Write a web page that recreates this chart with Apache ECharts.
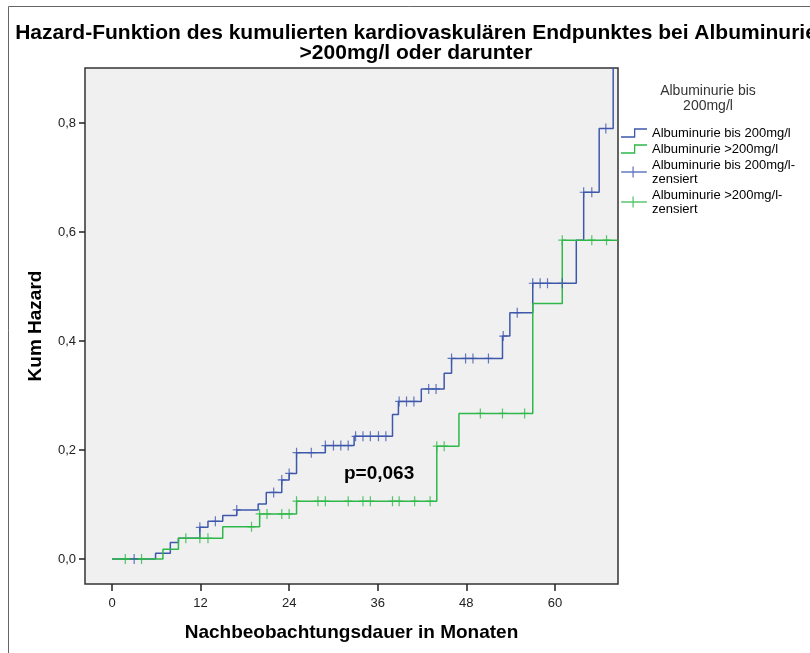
<!DOCTYPE html>
<html>
<head>
<meta charset="utf-8">
<script src="https://cdn.jsdelivr.net/npm/echarts@6/dist/echarts.min.js"></script>
<style>
html,body{margin:0;padding:0;background:#fff;}
#chart{width:810px;height:653px;}
</style>
</head>
<body>
<div id="chart"></div>
<script>
// ---- data ----
var xTicks = [0, 12, 24, 36, 48, 60];
var yTicks = [0, 0.2, 0.4, 0.6, 0.8];

var seriesNames = [
  'Albuminurie bis 200mg/l',
  'Albuminurie >200mg/l',
  'Albuminurie bis 200mg/l-zensiert',
  'Albuminurie >200mg/l-zensiert'
];

// step function: [month, cumulative hazard]
var lowSteps = [
  [0, 0], [5.9, 0.0105], [7.9, 0.030], [9.0, 0.038], [11.9, 0.058], [13.0, 0.069],
  [15.0, 0.0795], [16.9, 0.090], [19.8, 0.101], [20.9, 0.122], [23.0, 0.145],
  [24.0, 0.157], [25.0, 0.195], [28.9, 0.208], [32.8, 0.225], [38.0, 0.265],
  [38.8, 0.289], [41.9, 0.312], [45.0, 0.341], [46.0, 0.368], [52.9, 0.409],
  [53.9, 0.452], [57.0, 0.506], [62.9, 0.585], [63.9, 0.673], [66.0, 0.790],
  [67.9, 1.05]
];
var highSteps = [
  [0, 0], [6.9, 0.018], [9.0, 0.038], [15.0, 0.059], [20.0, 0.0826], [25.0, 0.106],
  [44.0, 0.207], [47.0, 0.267], [57.0, 0.469], [61.0, 0.585], [68.5, 0.585]
];

// censored observations: [month, cumulative hazard]
var lowCensored = [
  [3.0, 0], [11.9, 0.058], [14.0, 0.069], [16.9, 0.090], [21.9, 0.122], [23.0, 0.145],
  [24.0, 0.157], [25.0, 0.195], [27.0, 0.195], [28.9, 0.208], [30.0, 0.208],
  [31.0, 0.208], [32.0, 0.208], [33.0, 0.225], [34.0, 0.225], [35.0, 0.225],
  [36.1, 0.225], [37.1, 0.225], [38.9, 0.289], [39.9, 0.289], [40.9, 0.289],
  [42.9, 0.312], [43.9, 0.312], [46.0, 0.368], [47.9, 0.368], [48.9, 0.368],
  [51.0, 0.368], [53.0, 0.409], [54.9, 0.452], [57.0, 0.506], [58.0, 0.506],
  [59.0, 0.506], [61.0, 0.506], [63.9, 0.673], [65.0, 0.673], [66.9, 0.790]
];
var highCensored = [
  [1.8, 0], [4.0, 0], [10.0, 0.038], [11.9, 0.038], [13.0, 0.038], [18.9, 0.059],
  [20.0, 0.0826], [21.0, 0.0826], [23.0, 0.0826], [24.0, 0.0826], [25.0, 0.106],
  [27.9, 0.106], [28.9, 0.106], [32.0, 0.106], [34.0, 0.106], [35.0, 0.106],
  [38.0, 0.106], [38.9, 0.106], [41.0, 0.106], [43.1, 0.106], [44.0, 0.207],
  [45.0, 0.207], [49.9, 0.267], [52.9, 0.267], [55.9, 0.267], [61.0, 0.585],
  [65.0, 0.585], [67.0, 0.585]
];

var titleText = 'Hazard-Funktion des kumulierten kardiovaskulären Endpunktes bei Albuminurie\n>200mg/l oder darunter';
var legendTitle = 'Albuminurie bis\n200mg/l';
var xName = 'Nachbeobachtungsdauer in Monaten';
var yName = 'Kum Hazard';
var pText = 'p=0,063';

// ---- chart ----
var BLUE = '#3E58AC', GREEN = '#2EB848';
var FONT = 'Liberation Sans, Arial, sans-serif';
var crossSymbol = 'path://M3.4,0H4.6V10H3.4ZM0,4.4H8V5.6H0Z';
var stepIcon = 'path://M0,8.6H14V0H28V1.4H15.4V10H0Z';
var crossIcon = 'path://M0,5.3H28V6.7H0ZM12.3,0H13.7V12H12.3Z';

var chart = echarts.init(document.getElementById('chart'), null, {renderer: 'canvas'});
chart.setOption({
  animation: false,
  backgroundColor: '#ffffff',
  textStyle: {fontFamily: FONT},
  title: [{
    text: titleText,
    left: 411, top: 18, textAlign: 'center',
    textStyle: {fontFamily: FONT, fontWeight: 'bold', fontSize: 21, lineHeight: 20, color: '#000'}
  }, {
    text: legendTitle,
    left: 703, top: 79, textAlign: 'center',
    textStyle: {fontFamily: FONT, fontWeight: 'normal', fontSize: 14, lineHeight: 15, color: '#333'}
  }],
  legend: {
    orient: 'vertical',
    left: 616, top: 121,
    itemWidth: 26, itemHeight: 11, itemGap: 2,
    selectedMode: false,
    data: [
      {name: seriesNames[0], icon: stepIcon},
      {name: seriesNames[1], icon: stepIcon},
      {name: seriesNames[2], icon: crossIcon},
      {name: seriesNames[3], icon: crossIcon}
    ],
    formatter: function (n) { return n.replace('-zensiert', '-\nzensiert'); },
    textStyle: {fontFamily: FONT, fontSize: 13, lineHeight: 14, color: '#000'}
  },
  grid: {
    left: 85, right: 192, top: 68, bottom: 69,
    show: true, backgroundColor: '#f0f0f0', borderColor: '#333', borderWidth: 1.5
  },
  xAxis: {
    type: 'value', min: -3.66, max: 68.55,
    name: xName, nameLocation: 'middle', nameGap: 39,
    nameTextStyle: {fontFamily: FONT, fontWeight: 'bold', fontSize: 19, color: '#000'},
    axisLine: {show: false, onZero: false},
    axisTick: {show: true, inside: false, length: 7, customValues: xTicks, lineStyle: {color: '#222', width: 1.5}},
    axisLabel: {customValues: xTicks, margin: 13, fontSize: 13, color: '#222', fontFamily: FONT},
    splitLine: {show: false}
  },
  yAxis: {
    type: 'value', min: -0.046, max: 0.901,
    name: yName, nameLocation: 'middle', nameGap: 40, nameRotate: 90,
    nameTextStyle: {fontFamily: FONT, fontWeight: 'bold', fontSize: 19, color: '#000'},
    axisLine: {show: false, onZero: false},
    axisTick: {show: true, inside: false, length: 6, customValues: yTicks, lineStyle: {color: '#222', width: 1.5}},
    axisLabel: {customValues: yTicks, margin: 9, fontSize: 13, color: '#222', fontFamily: FONT,
      formatter: function (v) { return v.toFixed(1).replace('.', ','); }},
    splitLine: {show: false}
  },
  graphic: [{
    type: 'rect', silent: true, z: -10,
    shape: {x: 8.5, y: 6.5, width: 900, height: 800},
    style: {fill: 'none', stroke: '#666', lineWidth: 1}
  }, {
    type: 'text', left: 344, top: 464, z: 10,
    style: {text: pText, font: 'bold 19px ' + FONT, fill: '#000'}
  }],
  series: [{
    name: seriesNames[0], type: 'line', step: 'end', data: lowSteps,
    symbol: 'none', color: BLUE, lineStyle: {color: BLUE, width: 1.5}, z: 2
  }, {
    name: seriesNames[1], type: 'line', step: 'end', data: highSteps,
    symbol: 'none', color: GREEN, lineStyle: {color: GREEN, width: 1.5}, z: 3
  }, {
    name: seriesNames[2], type: 'scatter', data: lowCensored,
    symbol: crossSymbol, symbolSize: [8, 10], color: BLUE, itemStyle: {color: BLUE}, z: 4
  }, {
    name: seriesNames[3], type: 'scatter', data: highCensored,
    symbol: crossSymbol, symbolSize: [8, 10], color: GREEN, itemStyle: {color: GREEN}, z: 5
  }]
});
</script>
</body>
</html>
